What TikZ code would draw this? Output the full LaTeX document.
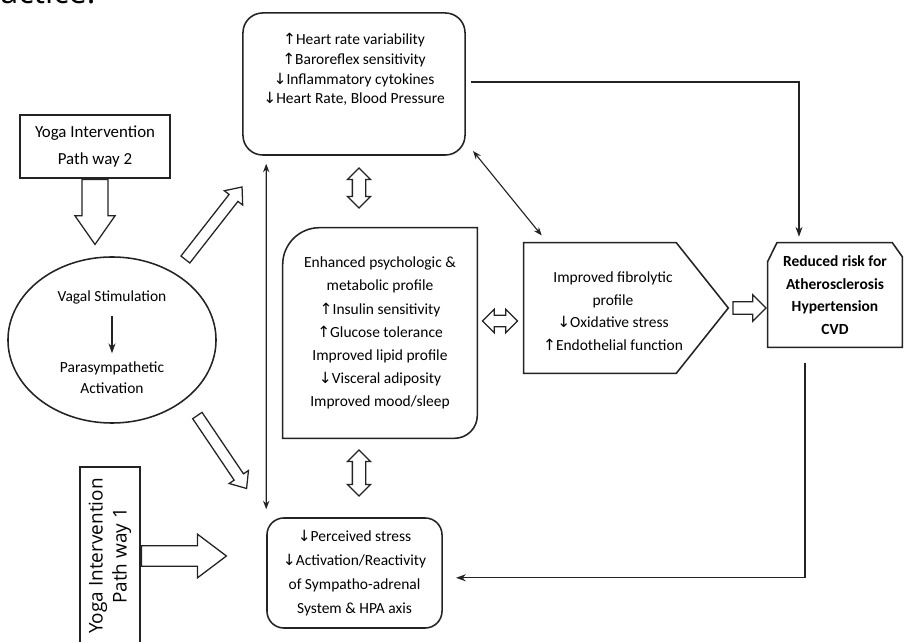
\documentclass[tikz,border=0pt]{standalone}
\usepackage{fontspec}
\setmainfont{Carlito}
\newfontfamily\arrowfont{DejaVu Sans}
\newfontfamily\opensans{Open Sans}
\usepackage{tikz}
\usetikzlibrary{arrows.meta, positioning, shapes.geometric,
                shapes.arrows, calc}
\definecolor{ink}{RGB}{35, 35, 35}
\newcommand{\upar}{{\arrowfont\char"2191}}
\newcommand{\dnar}{{\arrowfont\char"2193}}

\begin{document}
\begin{tikzpicture}[
    x=0.025cm, y=-0.025cm,
    line/.style={draw=ink, line width=1.1pt},
    box/.style={line, rounded corners=12pt, align=center,
                inner sep=0pt, font=\fontsize{11}{14}\selectfont},
    plain/.style={align=center, inner sep=0pt,
                font=\fontsize{11}{16}\selectfont},
    yogabox/.style={line, align=center, inner sep=0pt,
                font=\fontsize{12}{19}\selectfont},
    blk/.style={single arrow, line, line width=0.9pt, fill=white,
                inner xsep=0pt},
    dblk/.style={double arrow, line, line width=0.9pt, fill=white,
                inner xsep=0pt, inner ysep=0.15cm,
                double arrow head extend=0.12cm},
    arr/.style={-{Stealth[length=7pt, width=5pt]}, draw=ink,
                line width=0.9pt},
    dbl/.style={{Stealth[length=6pt, width=4.5pt]}-{Stealth[length=6pt,
                width=4.5pt]}, draw=ink, line width=0.8pt},
  ]
    \useasboundingbox (0,0) rectangle (904,642);

    % cut-off text above the figure
    \node[font=\opensans\fontsize{23}{28}\selectfont, anchor=base west,
          inner sep=0pt] (cut) at (0,4) {actice.};

    % Yoga inputs
    \node[yogabox, minimum width=3.75cm, minimum height=1.575cm]
      (yoga2) at (95,146.5) {Yoga Intervention\\Path way 2};
    \node[line, align=center, inner sep=0pt, rotate=90,
          minimum width=4.45cm, minimum height=1.5cm,
          font=\opensans\fontsize{13.5}{17}\selectfont]
      (yoga1) at (110,556) {Yoga Intervention\\Path way 1};

    % Vagal stimulation
    \node[line, ellipse, minimum width=5.2cm, minimum height=4.15cm,
          inner sep=0pt] (vagal) at (112,340) {};
    \node[plain] (vs) at (112,297) {Vagal Stimulation};
    \node[plain, font=\fontsize{11}{15}\selectfont]
      (pa) at (112,377.5) {Parasympathetic\\Activation};

    % Central boxes
    \node[box, rounded corners=14pt, minimum width=5.55cm,
          minimum height=3.55cm, text depth=0.77cm] (hrv) at (354,84)
      {\upar Heart rate variability\\ \upar Baroreflex sensitivity\\
       \dnar Inflammatory cytokines\\ \dnar Heart Rate, Blood Pressure};
    \node[plain, minimum width=4.85cm, minimum height=5.25cm,
          font=\fontsize{11}{16.4}\selectfont] (psych) at (380,333)
      {Enhanced psychologic \&\\ metabolic profile\\
       \upar Insulin sensitivity\\ \upar Glucose tolerance\\
       Improved lipid profile\\ \dnar Visceral adiposity\\
       Improved mood/sleep};
    \draw[line] (psych.south west)
      -- ([yshift=-0.92cm]psych.north west)
      arc[start angle=180, end angle=90, radius=0.92cm]
      -- (psych.north east)
      -- ([yshift=0.57cm]psych.south east)
      arc[start angle=0, end angle=-90, radius=0.57cm]
      -- cycle;
    \node[box, minimum width=4.375cm, minimum height=2.75cm,
          font=\fontsize{11}{17}\selectfont] (stress) at (354.5,573)
      {\dnar Perceived stress\\ \dnar Activation/Reactivity\\
       of Sympatho-adrenal\\ System \& HPA axis};

    % Fibrolytic profile
    \node[plain, minimum width=3.8cm, minimum height=3.25cm]
      (fibro) at (600,308) {};
    \draw[line] (fibro.north west) -- (fibro.north east)
      -- ([xshift=1.3cm]fibro.east) coordinate (fibrotip)
      -- (fibro.south east) -- (fibro.south west) -- cycle;
    \node[plain, font=\fontsize{11}{16}\selectfont]
      (fibrotext) at (613,311)
      {Improved fibrolytic\\ profile\\ \dnar Oxidative stress\\
       \upar Endothelial function};

    % Outcome
    \node[plain, minimum width=3.35cm, minimum height=2.6cm,
          font=\bfseries\fontsize{11}{16}\selectfont] (risk) at (835,295)
      {Reduced risk for\\ Atherosclerosis\\ Hypertension\\ CVD};
    \draw[line] (risk.south west)
      -- ([yshift=-0.47cm]risk.north west)
      -- ([xshift=0.23cm]risk.north west)
      -- ([xshift=-0.25cm]risk.north east)
      -- ([yshift=-0.35cm]risk.north east)
      -- (risk.south east) -- cycle;

    % Hollow block arrows
    \node[blk, rotate=-90, anchor=tail, minimum height=1.625cm,
          inner ysep=0.31cm, single arrow head extend=0.175cm,
          single arrow tip angle=70] (down2) at (yoga2.south) {};
    \node[blk, anchor=tail, minimum height=2.125cm,
          inner ysep=0.24cm, single arrow head extend=0.29cm,
          single arrow tip angle=74] (right1) at (yoga1.south) {};
    \node[blk, rotate=52, anchor=tail, minimum height=2.3cm,
          inner ysep=0.125cm, single arrow head extend=0.15cm,
          single arrow tip angle=80] (diagup) at (185,260) {};
    \node[blk, rotate=-56, anchor=tail, minimum height=2.2cm,
          inner ysep=0.125cm, single arrow head extend=0.15cm,
          single arrow tip angle=80] (diagdown) at (197,415) {};
    \node[dblk, rotate=90, minimum height=1.0cm] (ud1) at (359,188) {};
    \node[dblk, rotate=90, minimum height=1.15cm] (ud2) at (359,473) {};
    \node[dblk, minimum height=0.875cm, inner ysep=0.13cm,
          double arrow head extend=0.15cm] (lr) at (500,321) {};
    \node[blk, anchor=tail, minimum height=0.825cm,
          inner ysep=0.14cm, single arrow head extend=0.175cm,
          single arrow tip angle=90] (fr) at ([xshift=0.1cm]fibrotip) {};

    % Thin connectors
    \draw[arr, shorten <=0.3cm, shorten >=0.2cm] (vs) -- (pa);
    \draw[arr] ([xshift=0.12cm, yshift=0.05cm]hrv.east)
      -| ([xshift=-0.9cm, yshift=0.15cm]risk.north);
    \draw[arr] ([xshift=-0.75cm, yshift=-0.4cm]risk.south)
      |- ([xshift=0.33cm, yshift=-0.12cm]stress.east);
    \draw[dbl] ([xshift=0.6cm, yshift=-0.2cm]hrv.south west)
      -- ([yshift=0.2cm]stress.north west);
    \draw[dbl] ([xshift=0.18cm, yshift=0.12cm]hrv.south east)
      -- ([xshift=0.45cm, yshift=0.18cm]fibro.north west);
  \end{tikzpicture}
\end{document}
